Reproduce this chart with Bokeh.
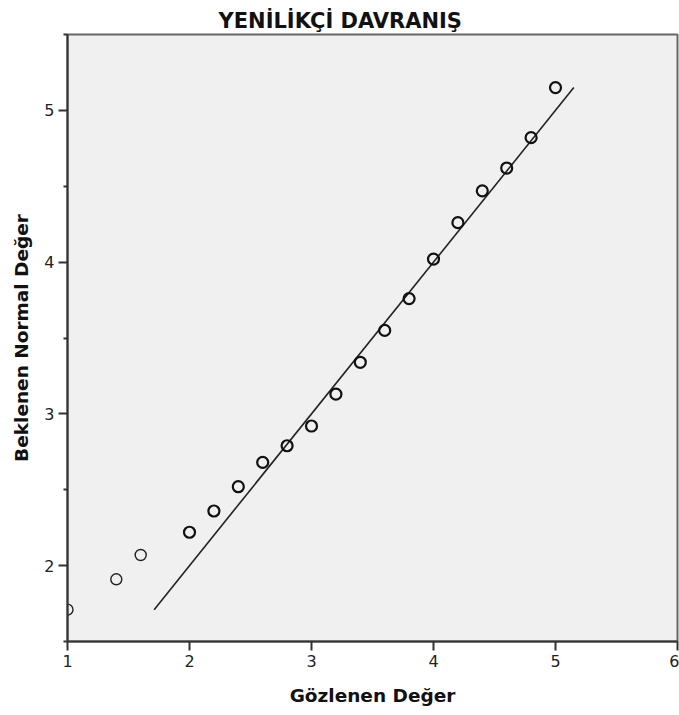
from bokeh.plotting import figure
from bokeh.models import Range1d, FixedTicker, Title
from bokeh.embed import file_html
from bokeh.resources import INLINE

# Q-Q plot data (observed values vs expected normal values)
observed = [1.0, 1.4, 1.6, 2.0, 2.2, 2.4, 2.6, 2.8, 3.0, 3.2, 3.4, 3.6, 3.8, 4.0, 4.2, 4.4, 4.6, 4.8, 5.0]
expected = [1.71, 1.91, 2.07, 2.22, 2.36, 2.52, 2.68, 2.79, 2.92, 3.13, 3.34, 3.55, 3.76, 4.02, 4.26, 4.47, 4.62, 4.82, 5.15]
ref_line = [1.71, 5.15]
x_ticks = [1, 2, 3, 4, 5, 6]
y_ticks = [2, 3, 4, 5]
y_minor = [1.5, 2.5, 3.5, 4.5, 5.5]

title_text = "YENİLİKÇİ DAVRANIŞ"
x_label = "Gözlenen Değer"
y_label = "Beklenen Normal Değer"

FONT = "DejaVu Sans"

p = figure(width=679, height=715, output_backend="svg", toolbar_location=None,
           x_range=Range1d(1, 6), y_range=Range1d(1.5, 5.5),
           min_border_left=67, min_border_right=2, min_border_top=34, min_border_bottom=74)

p.background_fill_color = "#f0f0f0"
p.border_fill_color = "white"
p.outline_line_color = "#666666"
p.outline_line_width = 2
p.grid.visible = False

t = Title(text=title_text, align="left", offset=151, standoff=3, text_font=FONT,
          text_font_size="21px", text_font_style="bold", text_color="#111111")
p.add_layout(t, "above")

p.xaxis.ticker = FixedTicker(ticks=x_ticks)
p.yaxis.ticker = FixedTicker(ticks=y_ticks, minor_ticks=y_minor)

for ax in (p.xaxis, p.yaxis):
    ax.axis_line_color = "#333333"
    ax.axis_line_width = 2
    ax.major_tick_line_color = "#333333"
    ax.major_tick_line_width = 2
    ax.major_tick_out = 9
    ax.major_tick_in = 0
    ax.major_label_text_font = FONT
    ax.major_label_text_font_size = "16px"
    ax.major_label_text_color = "#222222"
    ax.axis_label_text_font = FONT
    ax.axis_label_text_font_size = "18.5px"
    ax.axis_label_text_font_style = "bold"
    ax.axis_label_text_color = "#111111"

p.xaxis.minor_tick_line_color = None
p.yaxis.minor_tick_line_color = "#333333"
p.yaxis.minor_tick_line_width = 2
p.yaxis.minor_tick_out = 4
p.yaxis.minor_tick_in = 0

p.xaxis.axis_label = x_label
p.yaxis.axis_label = y_label
p.xaxis.major_label_standoff = 4
p.yaxis.major_label_standoff = 4
p.xaxis.axis_label_standoff = 15
p.yaxis.axis_label_standoff = 9

p.line(ref_line, ref_line, line_color="#222222", line_width=1.6)

p.scatter(observed[:3], expected[:3], marker="circle", size=11, fill_color=None,
          line_color="#222222", line_width=1.4)
p.scatter(observed[3:], expected[3:], marker="circle", size=11, fill_color=None,
          line_color="#111111", line_width=2.2)

open("out.html", "w").write(file_html(p, INLINE))
